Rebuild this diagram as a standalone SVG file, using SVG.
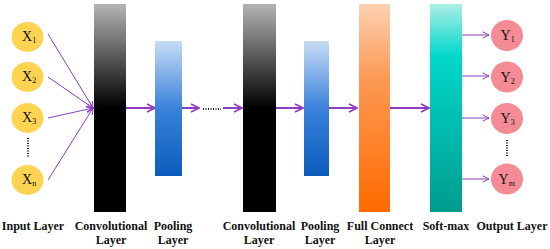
<svg xmlns="http://www.w3.org/2000/svg" width="550" height="249" viewBox="0 0 550 249">
<defs>
<linearGradient id="gConv" x1="0" y1="0" x2="0" y2="1">
<stop offset="0" stop-color="#b4b4b4"/><stop offset="0.5" stop-color="#000"/><stop offset="1" stop-color="#000"/>
</linearGradient>
<linearGradient id="gPool" x1="0" y1="0" x2="0" y2="1">
<stop offset="0" stop-color="#c8dcf4"/><stop offset="0.5" stop-color="#3a82dc"/><stop offset="1" stop-color="#0a5cbc"/>
</linearGradient>
<linearGradient id="gFc" x1="0" y1="0" x2="0" y2="1">
<stop offset="0" stop-color="#fdd2b4"/><stop offset="0.35" stop-color="#fd9a55"/><stop offset="1" stop-color="#ff6a00"/>
</linearGradient>
<linearGradient id="gSm" x1="0" y1="0" x2="0" y2="1">
<stop offset="0" stop-color="#aeeee8"/><stop offset="0.25" stop-color="#00d8ca"/><stop offset="1" stop-color="#009c8e"/>
</linearGradient>
<marker id="ah" viewBox="0 0 10 10" refX="9" refY="5" markerWidth="5" markerHeight="5" orient="auto" markerUnits="strokeWidth">
<path d="M1,1 L9,5 L1,9" fill="none" stroke="#8e3cc0" stroke-width="1.6"/>
</marker>
<marker id="ahs" viewBox="0 0 10 10" refX="9" refY="5" markerWidth="8" markerHeight="8" orient="auto" markerUnits="strokeWidth">
<path d="M1,1 L9,5 L1,9" fill="none" stroke="#8e3cc0" stroke-width="1.2"/>
</marker>
</defs>
<style>
.in{fill:#fdd452}
.out{fill:#f48b95}
.nt{font-family:"Liberation Serif",serif;font-size:14px;fill:#111}
.sub{font-size:8px}
.lbl{font-family:"Liberation Serif",serif;font-size:12px;font-weight:bold;fill:#111;text-anchor:middle}
.thin{stroke:#8e3cc0;stroke-width:1;fill:none}
.thick{stroke:#8e3cc0;stroke-width:2;fill:none}
.dots{stroke:#222;stroke-width:2;stroke-dasharray:1 1.5;fill:none}
</style>

<g id="connectors">
<line class="thin" x1="48" y1="34" x2="93" y2="108" marker-end="url(#ahs)"/>
<line class="thin" x1="48" y1="77" x2="93" y2="108" marker-end="url(#ahs)"/>
<line class="thin" x1="48" y1="118" x2="93" y2="108" marker-end="url(#ahs)"/>
<line class="thin" x1="48" y1="180" x2="93" y2="108" marker-end="url(#ahs)"/>
<line class="thick" x1="126" y1="108" x2="155" y2="108" marker-end="url(#ah)"/>
<line class="thick" x1="182" y1="108" x2="199" y2="108" marker-end="url(#ah)"/>
<line class="thick" x1="223" y1="108" x2="242" y2="108" marker-end="url(#ah)"/>
<line class="thick" x1="276" y1="108" x2="303" y2="108" marker-end="url(#ah)"/>
<line class="thick" x1="329" y1="108" x2="357" y2="108" marker-end="url(#ah)"/>
<line class="thick" x1="390" y1="108" x2="429" y2="108" marker-end="url(#ah)"/>
<line class="thin" x1="462" y1="35" x2="489" y2="35" marker-end="url(#ahs)"/>
<line class="thin" x1="462" y1="76" x2="489" y2="76" marker-end="url(#ahs)"/>
<line class="thin" x1="462" y1="118" x2="489" y2="118" marker-end="url(#ahs)"/>
<line class="thin" x1="462" y1="179" x2="489" y2="179" marker-end="url(#ahs)"/>
</g>

<g id="input-layer">
<ellipse class="in" cx="27.5" cy="37" rx="16" ry="15"/>
<text class="nt" x="22" y="41">X<tspan class="sub" dy="2">1</tspan></text>
<ellipse class="in" cx="27.5" cy="77" rx="16" ry="15"/>
<text class="nt" x="22" y="81">X<tspan class="sub" dy="2">2</tspan></text>
<ellipse class="in" cx="27.5" cy="118" rx="16" ry="15"/>
<text class="nt" x="22" y="122">X<tspan class="sub" dy="2">3</tspan></text>
<line class="dots" x1="28" y1="138" x2="28" y2="157"/>
<ellipse class="in" cx="27.5" cy="180" rx="16" ry="15"/>
<text class="nt" x="22" y="184">X<tspan class="sub" dy="2">n</tspan></text>
<text class="lbl" x="33" y="230">Input Layer</text>
</g>

<g id="conv1">
<rect x="94" y="4" width="32" height="208" fill="url(#gConv)"/>
<text class="lbl" x="111" y="230">Convolutional</text>
<text class="lbl" x="111" y="244">Layer</text>
</g>

<g id="pool1">
<rect x="155" y="41" width="27" height="135" fill="url(#gPool)"/>
<text class="lbl" x="173" y="230">Pooling</text>
<text class="lbl" x="173" y="244">Layer</text>
</g>

<g id="ellipsis">
<line class="dots" x1="203" y1="109" x2="221" y2="109" stroke-width="1.5"/>
</g>

<g id="conv2">
<rect x="243" y="4" width="33" height="208" fill="url(#gConv)"/>
<text class="lbl" x="259" y="230">Convolutional</text>
<text class="lbl" x="259" y="244">Layer</text>
</g>

<g id="pool2">
<rect x="304" y="41" width="25" height="135" fill="url(#gPool)"/>
<text class="lbl" x="320" y="230">Pooling</text>
<text class="lbl" x="320" y="244">Layer</text>
</g>

<g id="full-connect">
<rect x="359" y="4" width="31" height="208" fill="url(#gFc)"/>
<text class="lbl" x="380" y="230">Full Connect</text>
<text class="lbl" x="380" y="244">Layer</text>
</g>

<g id="softmax">
<rect x="430" y="4" width="32" height="208" fill="url(#gSm)"/>
<text class="lbl" x="446" y="230">Soft-max</text>
</g>

<g id="output-layer">
<ellipse class="out" cx="507" cy="35.5" rx="16" ry="15.5"/>
<text class="nt" x="500.5" y="40">Y<tspan class="sub" dy="2">1</tspan></text>
<ellipse class="out" cx="507" cy="77" rx="16" ry="15.5"/>
<text class="nt" x="500.5" y="81.5">Y<tspan class="sub" dy="2">2</tspan></text>
<ellipse class="out" cx="507" cy="118.5" rx="16" ry="15.5"/>
<text class="nt" x="500.5" y="123">Y<tspan class="sub" dy="2">3</tspan></text>
<line class="dots" x1="507" y1="140" x2="507" y2="157"/>
<ellipse class="out" cx="507" cy="179" rx="16" ry="15.5"/>
<text class="nt" x="498.5" y="183.5">Y<tspan class="sub" dy="2">m</tspan></text>
<text class="lbl" x="512" y="230">Output Layer</text>
</g>
</svg>
